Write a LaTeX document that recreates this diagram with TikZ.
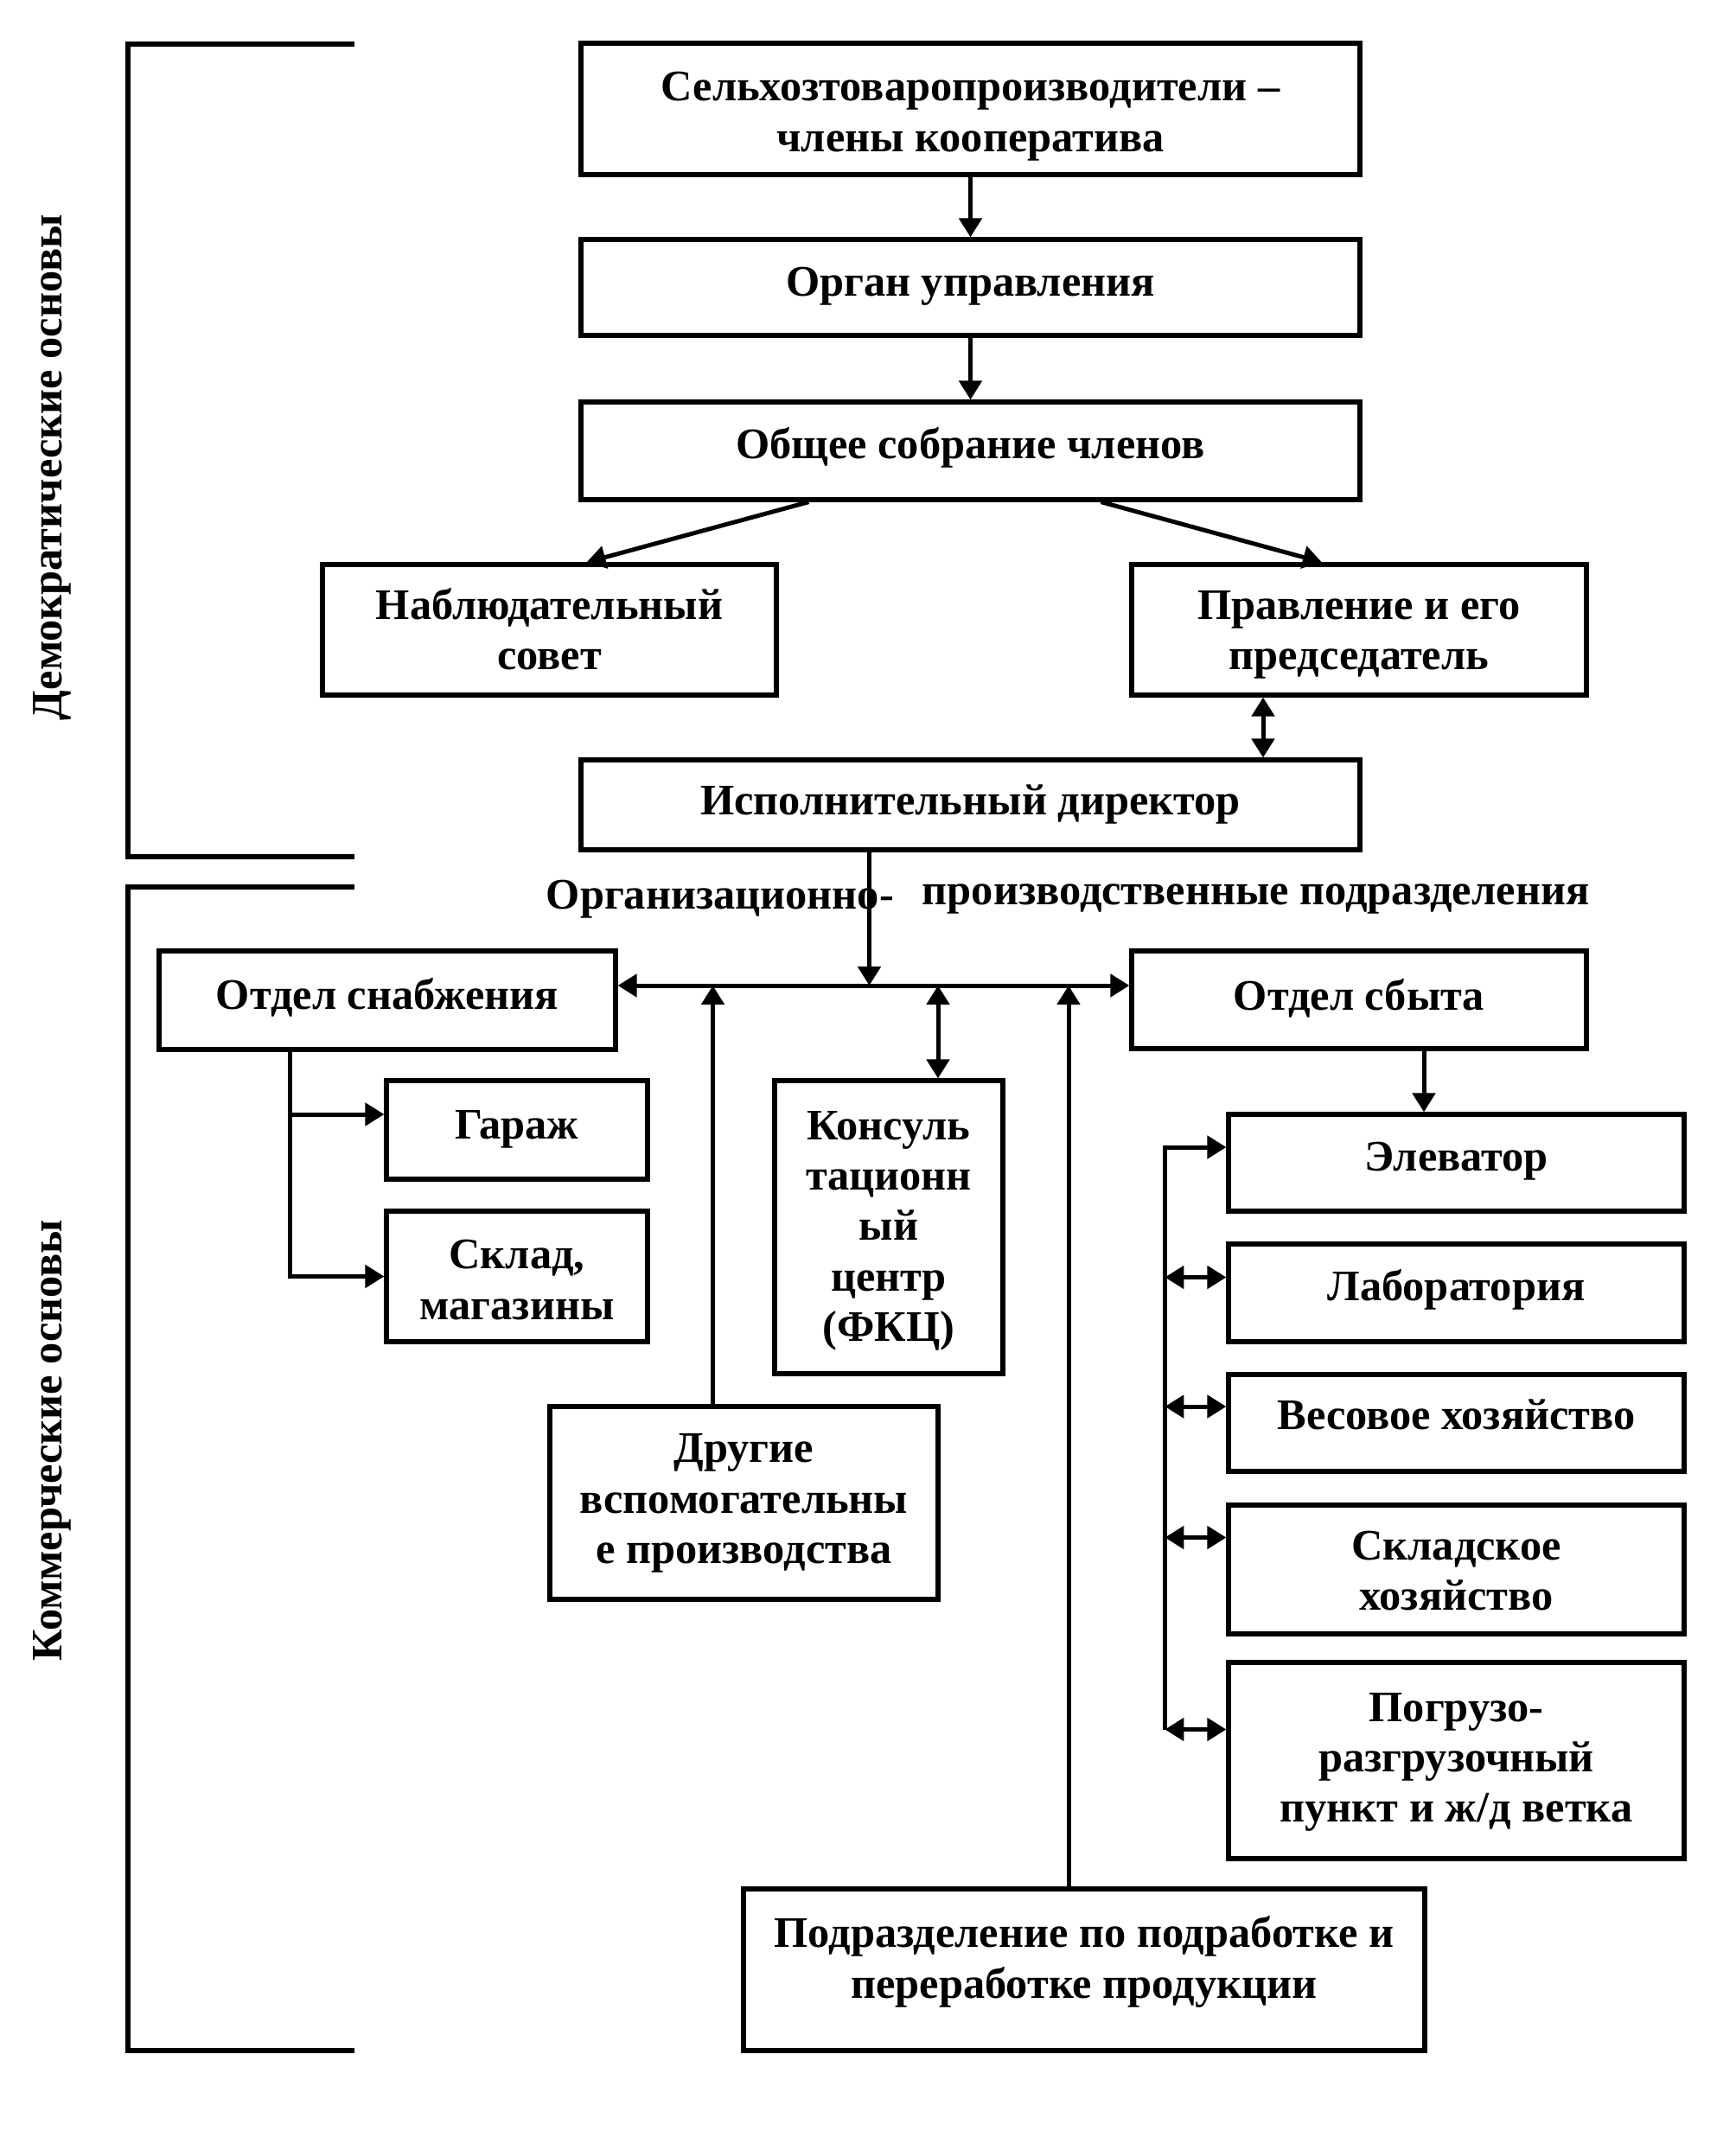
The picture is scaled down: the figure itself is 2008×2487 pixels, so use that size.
\documentclass[tikz,border=0pt]{standalone}
\usepackage{fontspec}
\setmainfont{Liberation Serif}
\usetikzlibrary{arrows.meta,calc}
\newcommand\fs{\fontsize{12.6}{14.6}\selectfont\bfseries}
\newcommand\mystrut{\rule[-2.7pt]{0pt}{13.9pt}}
\newcommand\BOX[7]{\node[box, minimum width={(#4-#2)*0.25pt}, minimum height={(#5-#3)*0.25pt}] (#1) at ({(#2+#4)/2},{(#3+#5)/2}) {};
  \node[txt] (#1-t) at ([yshift=#6]#1.north) {#7};}
\begin{document}
\begin{tikzpicture}[x=0.25pt,y=-0.25pt,
  box/.style={draw, line width=1.3pt, inner sep=0pt},
  txt/.style={anchor=north, inner sep=0pt, align=center, font=\fs, execute at begin node=\mystrut, execute at end node=\mystrut},
  conn/.style={line width=1.25pt, -{Triangle[length=5.5pt,width=6.5pt]}},
  dconn/.style={line width=1.25pt, {Triangle[length=5.5pt,width=6.5pt]}-{Triangle[length=5.5pt,width=6.5pt]}},
  brk/.style={line width=1.3pt},
  lbl/.style={font=\fs, inner sep=0pt}]
\useasboundingbox (0,0) rectangle (2008,2487);
% brackets
\draw[brk] (410,51) -- (148,51) -- (148,991) -- (410,991);
\draw[brk] (410,1026) -- (148,1026) -- (148,2372) -- (410,2372);
\node[lbl, rotate=90] (demo) at (60,541) {Демократические основы};
\node[lbl, rotate=90] (komm) at (60,1666) {Коммерческие основы};
% boxes
\BOX{top}{672}{50}{1573}{202}{-8.8pt}{Сельхозтоваропроизводители –\\члены кооператива}
\BOX{organ}{672}{277}{1573}{388}{-5.6pt}{Орган управления}
\BOX{obshee}{672}{465}{1573}{578}{-5.6pt}{Общее собрание членов}
\BOX{nabl}{373}{653}{898}{804}{-7.2pt}{Наблюдательный\\совет}
\BOX{pravl}{1309}{653}{1835}{804}{-8pt}{Правление и его\\председатель}
\BOX{isp}{672}{879}{1573}{983}{-5.2pt}{Исполнительный директор}
\node[lbl, anchor=west] (org1) at (631,1040) {Организационно-};
\node[lbl, anchor=west] (org2) at (1066,1040) {производственные подразделения};
\BOX{snab}{184}{1100}{712}{1214}{-6pt}{Отдел снабжения}
\BOX{sbyt}{1309}{1100}{1835}{1213}{-6.4pt}{Отдел сбыта}
\BOX{garage}{447}{1250}{749}{1364}{-6pt}{Гараж}
\BOX{sklad}{447}{1401}{749}{1552}{-8.8pt}{Склад,\\магазины}
\BOX{kons}{896}{1250}{1160}{1589}{-9.2pt}{Консуль\\тационн\\ый\\центр\\(ФКЦ)}
\BOX{drugie}{636}{1627}{1085}{1850}{-8.4pt}{Другие\\вспомогательны\\е производства}
\BOX{elev}{1421}{1289}{1948}{1401}{-5.6pt}{Элеватор}
\BOX{lab}{1421}{1439}{1948}{1552}{-5.6pt}{Лаборатория}
\BOX{ves}{1421}{1590}{1948}{1702}{-5.2pt}{Весовое хозяйство}
\BOX{sklh}{1421}{1741}{1948}{1890}{-8pt}{Складское\\хозяйство}
\BOX{pogr}{1421}{1923}{1948}{2150}{-9.2pt}{Погрузо-\\разгрузочный\\пункт и ж/д ветка}
\BOX{pod}{860}{2185}{1648}{2372}{-8.4pt}{Подразделение по подработке и\\переработке продукции}
% connectors (top part)
\draw[conn] (top) -- (organ);
\draw[conn] (organ) -- (obshee);
\draw[conn] ($(obshee.south)+(-187,0)$) -- ($(nabl.north)+(43,0)$);
\draw[conn] ($(obshee.south)+(151,0)$) -- ($(pravl.north)+(-43,0)$);
\coordinate (p1) at ($(pravl.south)+(-111,0)$);
\draw[dconn] (p1) -- (p1 |- isp.north);
% bus
\coordinate (busL) at ($(snab.east)+(0,-17)$);
\draw[dconn] (busL) -- (busL -| sbyt.west);
\coordinate (e1) at ($(isp.south)+(-117,0)$);
\draw[conn] (e1) -- (e1 |- busL);
\coordinate (k1) at ($(kons.north)+(57,0)$);
\draw[dconn] (busL -| k1) -- (k1);
\coordinate (d1) at ($(drugie.north)+(-36,0)$);
\draw[conn] (d1) -- (d1 |- busL);
\coordinate (q1) at ($(pod.north)+(-18,0)$);
\draw[conn] (q1) -- (q1 |- busL);
% supply branch
\coordinate (s1) at ($(snab.south)+(-113,0)$);
\coordinate (g1) at ($(garage.west)+(0,-18)$);
\draw[conn] (s1) |- (sklad.west);
\draw[conn] (s1 |- g1) -- (g1);
% sales branch
\coordinate (t1) at ($(sbyt.south)+(75,0)$);
\draw[conn] (t1) -- (t1 |- elev.north);
\coordinate (e2) at ($(elev.west)+(0,-18)$);
\coordinate (rb) at ($(e2)+(-71,0)$);
\coordinate (l2) at ($(lab.west)+(0,-18)$);
\coordinate (v2) at ($(ves.west)+(0,-19)$);
\coordinate (h2) at ($(sklh.west)+(0,-37)$);
\coordinate (g2) at ($(pogr.west)+(0,-36)$);
\draw[conn] (rb |- g2) -- (rb) -- (e2);
\draw[dconn] (rb |- l2) -- (l2);
\draw[dconn] (rb |- v2) -- (v2);
\draw[dconn] (rb |- h2) -- (h2);
\draw[dconn] (rb |- g2) -- (g2);
\end{tikzpicture}
\end{document}
